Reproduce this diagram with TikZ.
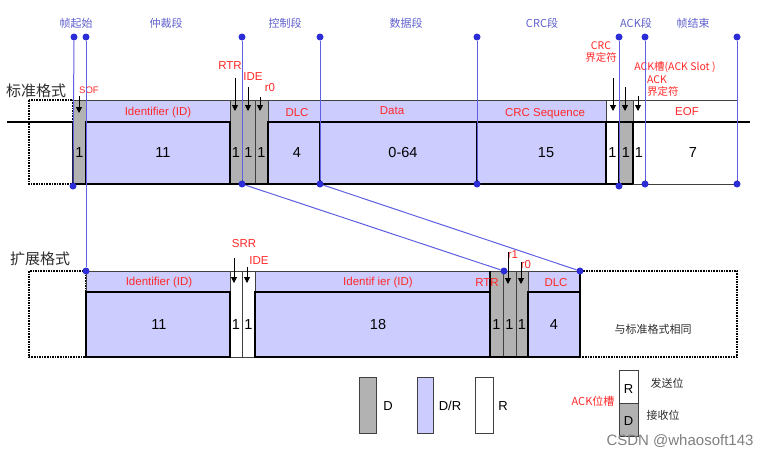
\documentclass[tikz,border=0pt]{standalone}
\usepackage{fontspec}
\setmainfont{Liberation Sans}
\newfontfamily\cjk{Noto Sans CJK SC}
\usepackage{xcolor}
\usetikzlibrary{arrows.meta}

\definecolor{idblue}{RGB}{204,204,255}
\definecolor{bitgray}{RGB}{178,178,178}
\definecolor{lineblue}{RGB}{95,95,225}
\definecolor{dotblue}{RGB}{45,45,215}
\definecolor{segblue}{RGB}{95,95,205}
\definecolor{labred}{RGB}{255,40,40}
\definecolor{darktext}{RGB}{45,45,45}

\tikzset{
  graycell/.style={fill=bitgray, draw=black!75, line width=0.6pt},
  bluecell/.style={fill=idblue, draw=black!75, line width=0.6pt},
  whitecell/.style={fill=white, draw=black!75, line width=0.6pt},
  wave/.style={line width=2pt},
  dotbox/.style={densely dotted, line width=1.6pt},
  redlabel/.style={text=labred, font=\fontsize{11.5}{12}\selectfont, inner sep=0pt},
  redcjk/.style={text=labred, font=\cjk\fontsize{10.5}{12}\selectfont, inner sep=0pt},
  seglabel/.style={text=segblue, font=\cjk\fontsize{11}{12}\selectfont, inner sep=0pt},
  fmtlabel/.style={text=darktext, font=\cjk\fontsize{15}{16}\selectfont, inner sep=0pt},
  bitnum/.style={font=\fontsize{14.5}{15}\selectfont, inner sep=0pt},
  legendtext/.style={font=\fontsize{13}{14}\selectfont, inner sep=0pt},
  bitarrow/.style={-{Triangle[length=6pt,width=6pt]}, line width=0.9pt},
  blueline/.style={draw=lineblue, line width=1pt},
  bluedot/.style={circle, fill=dotblue, inner sep=0pt, minimum size=7pt},
}

\begin{document}
\begin{tikzpicture}[x=1pt,y=-1pt]
\useasboundingbox (0,0) rectangle (775,458);

% Draw segment names on top
\node[seglabel] (sofseg) at (76,23) {帧起始};
\node[seglabel] (arbseg) at (166,23) {仲裁段};
\node[seglabel] (ctrlseg) at (285,23) {控制段};
\node[seglabel] (dataseg) at (406,23) {数据段};
\node[seglabel] (crcseg) at (542,23) {CRC段};
\node[seglabel] (ackseg) at (636,23) {ACK段};
\node[seglabel] (eofseg) at (693,23) {帧结束};

% Draw format names
\node[fmtlabel] (stdfmt) at (36,91) {标准格式};
\node[fmtlabel] (extfmt) at (40,259) {扩展格式};

% Draw standard format fields
\draw[dotbox] (29,100) rectangle (73,184);
\filldraw[graycell] (73,100) rectangle (86,184);
\filldraw[bluecell] (86,100) rectangle (230,184);
\filldraw[graycell] (230,100) rectangle (242,184);
\filldraw[graycell] (242,100) rectangle (255,184);
\filldraw[graycell] (255,100) rectangle (268,184);
\filldraw[bluecell] (268,100) rectangle (320,184);
\filldraw[bluecell] (320,100) rectangle (477,184);
\filldraw[bluecell] (477,100) rectangle (606,184);
\filldraw[whitecell] (606,100) rectangle (619,184);
\filldraw[graycell] (619,100) rectangle (633,184);
\filldraw[whitecell] (633,100) rectangle (645,184);
\filldraw[whitecell] (645,100) rectangle (737,184);

% Draw bit level line of standard format
\draw[wave] (7,122) -- (73,122) -- (73,184) -- (633,184);
\draw[wave] (86,184) -- (86,122) -- (230,122) -- (230,184);
\draw[wave] (268,184) -- (268,122) -- (750,122);
\draw[wave] (320,122) -- (320,184);
\draw[wave] (477,122) -- (477,184);
\draw[wave] (606,122) -- (606,184);
\draw[wave] (619,122) -- (619,184);
\draw[wave] (633,122) -- (633,184);

% Field names of standard format
\node[redlabel, font=\fontsize{9.5}{10}\selectfont] (sof) at (89,90) {SOF};
\node[redlabel] (stdid) at (158,113) {Identifier (ID)};
\node[redlabel] (stdrtr) at (230,66) {RTR};
\node[redlabel] (stdide) at (253,77) {IDE};
\node[redlabel] (stdrzero) at (270,88) {r0};
\node[redlabel] (stddlc) at (297,113) {DLC};
\node[redlabel] (data) at (392,111) {Data};
\node[redlabel] (crcseq) at (545,114) {CRC Sequence};
\node[redlabel] (eof) at (687,112) {EOF};
\node[redcjk, align=center] (crcdel) at (601,52) {CRC\\界定符};
\node[redcjk] (ackslot) at (675,67) {ACK槽(ACK Slot )};
\node[redcjk, align=left, anchor=west] (ackdel) at (647,86) {ACK\\界定符};

% Arrows into standard format
\coordinate (softail) at (79,96);   \coordinate (softip) at (79,113);
\coordinate (rtrtail) at (235,78);  \coordinate (rtrtip) at (235,111);
\coordinate (idetail) at (248,87);  \coordinate (idetip) at (248,111);
\coordinate (rzerotail) at (260,97); \coordinate (rzerotip) at (260,111);
\coordinate (crctail) at (613,78);  \coordinate (crctip) at (613,111);
\coordinate (slottail) at (625,87); \coordinate (slottip) at (625,111);
\coordinate (deltail) at (638,96);  \coordinate (deltip) at (638,111);
\draw[bitarrow] (softail) -- (softip);
\draw[bitarrow] (rtrtail) -- (rtrtip);
\draw[bitarrow] (idetail) -- (idetip);
\draw[bitarrow] (rzerotail) -- (rzerotip);
\draw[bitarrow] (crctail) -- (crctip);
\draw[bitarrow] (slottail) -- (slottip);
\draw[bitarrow] (deltail) -- (deltip);

% Bit counts of standard format
\node[bitnum] (nsof) at (79.5,153) {1};
\node[bitnum] (nid) at (163,153) {11};
\node[bitnum] (nrtr) at (236,153) {1};
\node[bitnum] (nide) at (248.5,153) {1};
\node[bitnum] (nrzero) at (261.5,153) {1};
\node[bitnum] (ndlc) at (297,153) {4};
\node[bitnum] (ndata) at (403,153) {0-64};
\node[bitnum] (ncrc) at (546,153) {15};
\node[bitnum] (ncrcdel) at (612.5,153) {1};
\node[bitnum] (nslot) at (626,153) {1};
\node[bitnum] (nackdel) at (639,153) {1};
\node[bitnum] (neof) at (693,153) {7};

% Draw extended format fields
\draw[dotbox] (29,271) rectangle (86,357);
\filldraw[bluecell] (86,271) rectangle (230,357);
\filldraw[whitecell] (230,271) rectangle (242,357);
\filldraw[whitecell] (242,271) rectangle (255,357);
\filldraw[bluecell] (255,271) rectangle (490,357);
\filldraw[graycell] (490,271) rectangle (503,357);
\filldraw[graycell] (503,271) rectangle (516,357);
\filldraw[graycell] (516,271) rectangle (528,357);
\filldraw[bluecell] (528,271) rectangle (580,357);
\draw[dotbox] (580,271) rectangle (737,357);

% Draw bit level line of extended format
\draw[wave] (86,292) rectangle (230,357);
\draw[wave] (255,292) rectangle (490,357);
\draw[wave] (490,271) -- (490,357) -- (528,357);
\draw[wave] (528,292) rectangle (580,357);
\draw[wave] (580,271) -- (580,357);

% Field names of extended format
\node[redlabel] (extid) at (159,283) {Identifier (ID)};
\node[redlabel] (extidb) at (378,283) {Identif ier (ID)};
\node[redlabel] (extrtr) at (487,283) {RTR};
\node[redlabel] (extdlc) at (556,283) {DLC};
\node[redlabel] (srr) at (244,244) {SRR};
\node[redlabel] (extide) at (259,261) {IDE};
\node[redlabel] (rone) at (513,255) {r1};
\node[redlabel] (extrzero) at (526,265) {r0};
\node[text=darktext, font=\cjk\fontsize{11}{12}\selectfont, inner sep=0pt] (same) at (653,329) {与标准格式相同};

% Arrows into extended format
\coordinate (srrtail) at (234,258);   \coordinate (srrtip) at (234,283);
\coordinate (eidetail) at (247,267);  \coordinate (eidetip) at (247,283);
\coordinate (ronetail) at (508,252);  \coordinate (ronetip) at (508,284);
\coordinate (erzerotail) at (521,262); \coordinate (erzerotip) at (521,284);
\draw[bitarrow] (srrtail) -- (srrtip);
\draw[bitarrow] (eidetail) -- (eidetip);
\draw[bitarrow] (ronetail) -- (ronetip);
\draw[bitarrow] (erzerotail) -- (erzerotip);

% Bit counts of extended format
\node[bitnum] (mid) at (159,325) {11};
\node[bitnum] (msrr) at (236,325) {1};
\node[bitnum] (mide) at (248.5,325) {1};
\node[bitnum] (midb) at (378,325) {18};
\node[bitnum] (mrtr) at (496.5,325) {1};
\node[bitnum] (mrone) at (509.5,325) {1};
\node[bitnum] (mrzero) at (522,325) {1};
\node[bitnum] (mdlc) at (554,325) {4};

% Draw blue dots
\node[bluedot] (ta) at (74,37) {};
\node[bluedot] (tb) at (86,37) {};
\node[bluedot] (tc) at (242,37) {};
\node[bluedot] (td) at (320,37) {};
\node[bluedot] (te) at (477,37) {};
\node[bluedot] (tf) at (619,37) {};
\node[bluedot] (tg) at (645,37) {};
\node[bluedot] (th) at (737,37) {};
\node[bluedot] (ba) at (73,186) {};
\node[bluedot] (bc) at (242,184) {};
\node[bluedot] (bd) at (320,184) {};
\node[bluedot] (be) at (477,184) {};
\node[bluedot] (bf) at (619,186) {};
\node[bluedot] (bg) at (645,184) {};
\node[bluedot] (bh) at (737,184) {};
\node[bluedot] (eb) at (86,271) {};
\node[bluedot] (ec) at (504,271) {};
\node[bluedot] (ed) at (580,271) {};

% Draw blue lines between dots
\draw[blueline] (ta) -- (ba);
\draw[blueline] (tb) -- (eb);
\draw[blueline] (tc) -- (bc);
\draw[blueline] (td) -- (bd);
\draw[blueline] (te) -- (be);
\draw[blueline] (tf) -- (bf);
\draw[blueline] (tg) -- (bg);
\draw[blueline] (th) -- (bh);
\draw[blueline] (bc) -- (ec);
\draw[blueline] (bd) -- (ed);

% Draw legend
\filldraw[graycell, line width=1pt] (359,377) rectangle (376,433);
\node[legendtext] (dlab) at (388,406) {D};
\filldraw[bluecell, line width=1pt] (417,377) rectangle (433,433);
\node[legendtext] (drlab) at (450,406) {D/R};
\filldraw[whitecell, line width=1pt] (475,377) rectangle (493,433);
\node[legendtext] (rlab) at (503,406) {R};

% Draw ACK slot legend
\filldraw[whitecell, line width=1pt] (619,370) rectangle (638,403);
\filldraw[graycell, line width=1pt] (619,403) rectangle (638,436);
\node[legendtext] (ackr) at (628.5,389) {R};
\node[legendtext] (ackd) at (628.5,421) {D};
\node[redcjk, font=\cjk\fontsize{11}{12}\selectfont] (ackpos) at (593,401) {ACK位槽};
\node[text=darktext, font=\cjk\fontsize{11}{12}\selectfont, inner sep=0pt] (send) at (667,383) {发送位};
\node[text=darktext, font=\cjk\fontsize{11}{12}\selectfont, inner sep=0pt] (recv) at (663,415) {接收位};
\node[text=black!50, font=\fontsize{15}{16}\selectfont, inner sep=0pt] (mark) at (680,441) {CSDN @whaosoft143};
\end{tikzpicture}
\end{document}
